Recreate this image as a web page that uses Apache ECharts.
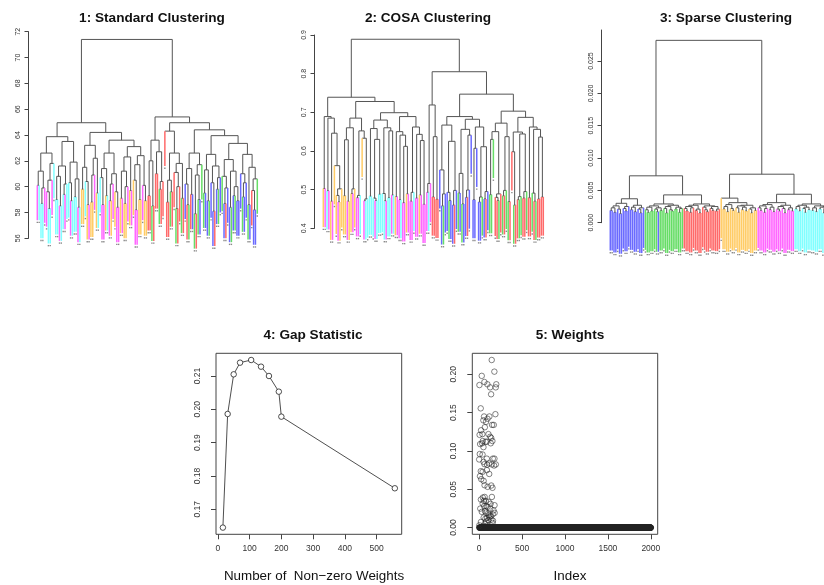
<!DOCTYPE html>
<html>
<head>
<meta charset="utf-8">
<script src="https://cdn.jsdelivr.net/npm/echarts@6/dist/echarts.min.js"></script>
<style>
  html, body { margin: 0; padding: 0; background: #fff; }
  #chart { width: 824px; height: 585px; }
</style>
</head>
<body>
<div id="chart"></div>
<script>
// leaf colour of each observation, in dendrogram order (m magenta, c cyan, o orange, r red, g green, b blue)
const leaves1 = ['mcccm', 'mccmc', 'ccmccmc', 'cmcccmc', 'oocom', 'oomoc', 'cmmocmomomm',
  'omoomom', 'ommoomoo', 'rrgrrrgrr', 'r', 'rrgrrgrrgr', 'brgrbgrgbg', 'gbbgbbrbgb',
  'gbrbbgbgbb', 'bgbbgbrbbg'].join('');
// merge height between neighbouring leaves (in-order)
const gaps1 = [
  60.1, 61.2, 58.7, 59.9, 62.6,
  59.6, 58.3, 60.5, 61.8, 63.87,
  59.0, 60.8, 58.5, 61.6, 59.4, 60.2, 63.5,
  60.3, 58.9, 61.9, 59.2, 60.6, 58.4, 64.95,
  59.8, 61.5, 60.4, 58.6, 63.2,
  58.8, 60.9, 62.2, 59.5, 64.2,
  60.7, 58.6, 61.4, 59.3, 62.6, 58.9, 60.2, 61.0, 59.6, 58.4, 63.6,
  59.1, 61.2, 58.7, 60.0, 62.3, 59.7, 63.1,
  60.5, 58.2, 61.7, 59.0, 62.4, 60.1, 58.9, 71.4,
  59.3, 62.0, 58.5, 63.6, 61.0, 62.7, 59.8, 60.4, 65.4,
  64.3,
  58.8, 60.5, 59.6, 62.6, 61.1, 58.3, 60.0, 61.8, 59.1, 64.95,
  60.2, 58.6, 61.4, 59.4, 62.6, 57.9, 60.9, 59.0, 61.7, 64.4,
  59.5, 61.3, 58.9, 62.5, 60.3, 58.1, 61.6, 59.8, 60.7, 63.95,
  60.8, 58.7, 59.9, 62.1, 58.4, 61.2, 59.3, 60.0, 58.9, 63.35,
  61.0, 59.2, 60.3, 62.5, 58.6, 61.5, 59.7, 58.2, 60.6
];
const ticks1 = [56, 58, 60, 62, 64, 66, 68, 70, 72];

const leaves2 = ['om', 'cm', 'omoomoo', 'oomoomo', 'mmcomcc', 'cccmccc', 'ccmccmc', 'ommcmmom',
  'mmcmmommm', 'mcm', 'rrrr', 'bbgbbgbbrb', 'gbgbbrbb', 'bbbbbgbrb', 'gggrrgrgrggr',
  'rgrrggrrg', 'rrgrgrrrr'].join('');
const gaps2 = [
  0.503, 0.689,
  0.497, 0.685,
  0.470, 0.646, 0.562, 0.485, 0.468, 0.502, 0.739,
  0.484, 0.629, 0.470, 0.660, 0.490, 0.502, 0.685,
  0.479, 0.485, 0.652, 0.633, 0.471, 0.476, 0.728,
  0.483, 0.658, 0.478, 0.472, 0.630, 0.488, 0.680,
  0.490, 0.471, 0.660, 0.479, 0.652, 0.486, 0.699,
  0.482, 0.650, 0.474, 0.641, 0.466, 0.612, 0.489, 0.689,
  0.470, 0.493, 0.662, 0.478, 0.643, 0.486, 0.627, 0.462, 0.889,
  0.493, 0.516, 0.719,
  0.481, 0.637, 0.475, 0.805,
  0.551, 0.458, 0.489, 0.667, 0.493, 0.472, 0.625, 0.460, 0.498, 0.689,
  0.491, 0.542, 0.463, 0.656, 0.480, 0.499, 0.641, 0.682,
  0.474, 0.607, 0.662, 0.468, 0.481, 0.611, 0.476, 0.495, 0.747,
  0.487, 0.630, 0.650, 0.480, 0.472, 0.489, 0.672, 0.484, 0.498, 0.637, 0.469, 0.703,
  0.598, 0.460, 0.649, 0.474, 0.482, 0.644, 0.478, 0.495, 0.687,
  0.479, 0.662, 0.491, 0.470, 0.656, 0.476, 0.636, 0.481
];
const ticks2 = [0.4, 0.5, 0.6, 0.7, 0.8, 0.9];

const leaves3 = ['bbbbbbbbbbbbbbbbbbb', 'gggggggbggggggggggggg', 'rrrrrrrrrrrrrrrrrrrr',
  'oooooooooooooooooooo', 'mmmmmmmmmmmmmmmmmmmm', 'cccccccccccccccccccc'].join('');
const gaps3 = [
  0.0019, 0.0023, 0.0016, 0.0026, 0.0021, 0.0014, 0.0030, 0.0022, 0.0018, 0.0025, 0.0037, 0.0020,
  0.0024, 0.0017, 0.0027, 0.0021, 0.0015, 0.0023, 0.00725,
  0.0020, 0.0016, 0.0024, 0.0018, 0.0026, 0.0021, 0.0017, 0.0023, 0.0019, 0.0029, 0.0022, 0.0015,
  0.0025, 0.0020, 0.0018, 0.0027, 0.0021, 0.0024, 0.0016, 0.0022, 0.0043,
  0.0022, 0.0018, 0.0025, 0.0016, 0.0023, 0.0027, 0.0019, 0.0021, 0.0015, 0.0029, 0.0024, 0.0020,
  0.0017, 0.0026, 0.0022, 0.0019, 0.0025, 0.0018, 0.0021, 0.0282,
  0.0038, 0.0021, 0.0025, 0.0017, 0.0028, 0.0022, 0.0019, 0.0031, 0.0023, 0.0016, 0.0026, 0.0020,
  0.0024, 0.0018, 0.0027, 0.0021, 0.0015, 0.0023, 0.0019, 0.0075,
  0.0023, 0.0019, 0.0026, 0.0016, 0.0022, 0.0028, 0.0020, 0.0024, 0.0017, 0.0031, 0.0021, 0.0018,
  0.0025, 0.0022, 0.0015, 0.0027, 0.0020, 0.0023, 0.0018, 0.0044,
  0.0021, 0.0025, 0.0018, 0.0027, 0.0022, 0.0016, 0.0024, 0.0020, 0.0029, 0.0019, 0.0023, 0.0017,
  0.0026, 0.0021, 0.0024, 0.0015, 0.0022, 0.0019, 0.0025
];
const ticks3 = [0, 0.005, 0.01, 0.015, 0.02, 0.025];

// gap statistic
const gapSizes = [16, 31, 50, 70, 105, 136, 161, 192, 200, 557];
const gapValues = [0.1645, 0.1986, 0.2105, 0.2140, 0.2148, 0.2128, 0.2100, 0.2053, 0.1978, 0.1763];
const gapXTicks = [0, 100, 200, 300, 400, 500];
const gapYTicks = [0.17, 0.18, 0.19, 0.20, 0.21];

// feature weights: [index, weight] for the non-zero ones, all others are 0
const featureCount = 2000;
const nonzeroWeights = [
  [1, 0.0889], [3, 0.003], [4, 0.186], [6, 0.121], [8, 0.096], [10, 0.0671], [12, 0.109], [14, 0.0248],
  [19, 0.1556], [20, 0.0736], [21, 0.0366], [22, 0.0074], [23, 0.127], [25, 0.0632], [31, 0.198],
  [32, 0.0205], [35, 0.110], [39, 0.122], [40, 0.0954], [41, 0.0728], [42, 0.0314], [43, 0.113],
  [44, 0.0392], [45, 0.0017], [50, 0.140], [51, 0.105], [52, 0.0858], [53, 0.061], [54, 0.0131],
  [57, 0.035], [58, 0.145], [59, 0.0279], [62, 0.190], [63, 0.0828], [64, 0.0553], [65, 0.040],
  [66, 0.0052], [67, 0.131], [70, 0.0215], [73, 0.0115], [76, 0.112], [78, 0.0349], [79, 0.0196],
  [81, 0.138], [84, 0.008], [86, 0.028], [89, 0.112], [90, 0.090], [91, 0.075], [92, 0.0126],
  [93, 0.082], [97, 0.187], [98, 0.142], [99, 0.0532], [100, 0.027], [101, 0.003], [105, 0.0185],
  [109, 0.122], [110, 0.0096], [112, 0.0336], [116, 0.0837], [117, 0.0161], [118, 0.070], [120, 0.145],
  [124, 0.014], [128, 0.183], [129, 0.1185], [130, 0.0248], [134, 0.031], [136, 0.110], [137, 0.015],
  [140, 0.174], [141, 0.117], [142, 0.0549], [143, 0.0105], [147, 0.2187], [148, 0.0824], [149, 0.040],
  [151, 0.134], [155, 0.113], [156, 0.0519], [157, 0.0061], [159, 0.0174], [160, 0.090], [162, 0.009],
  [168, 0.0225], [171, 0.134], [175, 0.081], [178, 0.2035], [179, 0.090], [180, 0.0292], [181, 0.0192],
  [190, 0.148], [194, 0.183], [195, 0.0824], [200, 0.187]
];
const weightXTicks = [0, 500, 1000, 1500, 2000];
const weightYTicks = [0, 0.05, 0.10, 0.15, 0.20];

const leafPalette = { m: '#ff66ff', c: '#80ffff', o: '#ffcc66', r: '#ff6a6a', g: '#66dd66', b: '#6a6aff' };
const branchColor = '#555';
const axisColor = '#444';
const labelColor = '#333';
const font = 'Liberation Sans, Arial, Helvetica, sans-serif';

// turn leaf order + neighbour merge heights into dendrogram segments
function dendroSegments(colors, gaps, hang) {
  const segs = [];
  function walk(lo, hi) {
    if (lo === hi) return { x: lo, leaf: true };
    let k = lo;
    for (let i = lo + 1; i < hi; i++) if (gaps[i] > gaps[k]) k = i;
    const h = gaps[k];
    const kids = [walk(lo, k), walk(k + 1, hi)];
    segs.push([kids[0].x, h, kids[1].x, h, '']);
    kids.forEach(function (c) {
      if (c.leaf) segs.push([c.x, h, c.x, h - hang, colors[c.x]]);
      else segs.push([c.x, h, c.x, c.h, '']);
    });
    return { x: (kids[0].x + kids[1].x) / 2, h: h, leaf: false };
  }
  walk(0, colors.length - 1);
  return segs;
}

function renderSeg(params, api) {
  const p1 = api.coord([api.value(0), api.value(1)]);
  const p2 = api.coord([api.value(2), api.value(3)]);
  const c = api.value(4);
  const line = {
    type: 'line',
    shape: { x1: p1[0], y1: p1[1], x2: p2[0], y2: p2[1] },
    style: { stroke: c ? leafPalette[c] : branchColor, lineWidth: c ? 1.5 : 1 }
  };
  if (!c) return line;
  return {
    type: 'group',
    children: [line, {
      type: 'rect',
      shape: { x: p2[0] - 0.7, y: p2[1] + 1.5, width: 1.4, height: 1.4 },
      style: { fill: '#8a8a8a' }
    }]
  };
}

// R-like 4% padding around a data range
function padRange(vals) {
  const lo = Math.min.apply(null, vals), hi = Math.max.apply(null, vals);
  const d = (hi - lo) * 0.04;
  return [lo - d, hi + d];
}

const weightPoints = [];
const nzMap = {};
nonzeroWeights.forEach(function (p) { nzMap[p[0]] = p[1]; });
for (let i = 1; i <= featureCount; i++) weightPoints.push([i, nzMap[i] || 0]);

const gapX = padRange(gapSizes), gapY = padRange(gapValues);
const wX = padRange([1, featureCount]), wY = padRange(weightPoints.map(function (p) { return p[1]; }));
const nLeaves = leaves1.length;
const leafX = padRange([0, nLeaves - 1]);

const chart = echarts.init(document.getElementById('chart'), null, { renderer: 'canvas' });

function dendroYAxis(idx, min, max, ticks, digits) {
  return {
    gridIndex: idx, type: 'value', min: min, max: max,
    splitLine: { show: false },
    axisLine: { show: true, onZero: false, lineStyle: { color: axisColor, width: 1 } },
    axisTick: { show: true, length: 4, customValues: ticks, lineStyle: { color: axisColor } },
    axisLabel: {
      customValues: ticks, rotate: 90, margin: 7, fontSize: 7, color: labelColor, fontFamily: font,
      formatter: function (v) { return digits === 0 ? String(v) : v.toFixed(digits); }
    }
  };
}

function boxYAxis(idx, range, ticks) {
  return {
    gridIndex: idx, type: 'value', min: range[0], max: range[1],
    splitLine: { show: false },
    axisLine: { show: false, onZero: false },
    axisTick: { show: true, length: 5, customValues: ticks, lineStyle: { color: axisColor } },
    axisLabel: {
      customValues: ticks, rotate: 90, margin: 14, fontSize: 8.5, color: labelColor, fontFamily: font,
      formatter: function (v) { return v.toFixed(2); }
    }
  };
}

function boxXAxis(idx, range, ticks) {
  return {
    gridIndex: idx, type: 'value', min: range[0], max: range[1],
    splitLine: { show: false },
    axisLine: { show: false, onZero: false },
    axisTick: { show: true, length: 5, customValues: ticks, lineStyle: { color: axisColor } },
    axisLabel: {
      customValues: ticks, margin: 10, fontSize: 8.5, color: labelColor, fontFamily: font,
      formatter: function (v) { return String(Math.round(v)); }
    }
  };
}

function hiddenXAxis(idx) {
  return { gridIndex: idx, type: 'value', show: false, min: leafX[0], max: leafX[1],
    axisLine: { onZero: false } };
}

const titleStyle = { fontSize: 13.6, fontWeight: 'bold', color: '#111', fontFamily: font };
const nameStyle = { fontSize: 13.4, fontWeight: 'normal', color: '#111', fontFamily: font };

chart.setOption({
  animation: false,
  backgroundColor: '#fff',
  title: [
    { text: '1: Standard Clustering', left: 147, top: 6, textAlign: 'center', textStyle: titleStyle },
    { text: '2: COSA Clustering', left: 423, top: 6, textAlign: 'center', textStyle: titleStyle },
    { text: '3: Sparse Clustering', left: 721, top: 6, textAlign: 'center', textStyle: titleStyle },
    { text: '4: Gap Statistic', left: 308, top: 323, textAlign: 'center', textStyle: titleStyle },
    { text: '5: Weights', left: 565, top: 323, textAlign: 'center', textStyle: titleStyle },
    { text: 'Number of  Non\u2212zero Weights', left: 309, top: 565, textAlign: 'center', textStyle: nameStyle },
    { text: 'Index', left: 565, top: 565, textAlign: 'center', textStyle: nameStyle }
  ],
  grid: [
    { left: 28.5, top: 31.7, width: 237.6, height: 206.6, outerBoundsMode: 'none' },
    { left: 314.5, top: 35, width: 237.6, height: 193.3, outerBoundsMode: 'none' },
    { left: 601.5, top: 30, width: 237.6, height: 192.7, outerBoundsMode: 'none' },
    { left: 216, top: 353.3, width: 185.7, height: 181, show: true, borderColor: axisColor, borderWidth: 1, outerBoundsMode: 'none' },
    { left: 472.3, top: 353.3, width: 185.4, height: 181, show: true, borderColor: axisColor, borderWidth: 1, outerBoundsMode: 'none' }
  ],
  xAxis: [
    hiddenXAxis(0),
    hiddenXAxis(1),
    hiddenXAxis(2),
    boxXAxis(3, gapX, gapXTicks),
    boxXAxis(4, wX, weightXTicks)
  ],
  yAxis: [
    dendroYAxis(0, 56, 72, ticks1, 0),
    dendroYAxis(1, 0.4, 0.9, ticks2, 1),
    dendroYAxis(2, 0, 0.0298, ticks3, 3),
    boxYAxis(3, gapY, gapYTicks),
    boxYAxis(4, wY, weightYTicks)
  ],
  series: [
    { type: 'custom', xAxisIndex: 0, yAxisIndex: 0, clip: false, renderItem: renderSeg,
      data: dendroSegments(leaves1, gaps1, 2.7) },
    { type: 'custom', xAxisIndex: 1, yAxisIndex: 1, clip: false, renderItem: renderSeg,
      data: dendroSegments(leaves2, gaps2, 0.1) },
    { type: 'custom', xAxisIndex: 2, yAxisIndex: 2, clip: false, renderItem: renderSeg,
      data: dendroSegments(leaves3, gaps3, 0.0062) },
    {
      type: 'line', xAxisIndex: 3, yAxisIndex: 3,
      data: gapSizes.map(function (x, i) { return [x, gapValues[i]]; }),
      symbol: 'circle', symbolSize: 5.5,
      lineStyle: { color: '#222', width: 0.8 },
      itemStyle: { color: '#fff', borderColor: '#222', borderWidth: 0.8 }
    },
    {
      type: 'scatter', xAxisIndex: 4, yAxisIndex: 4,
      data: weightPoints,
      symbol: 'circle', symbolSize: 5.5,
      itemStyle: { color: 'transparent', borderColor: '#222', borderWidth: 0.7 }
    }
  ]
});

window.addEventListener('resize', function () {
  chart.resize();
});
</script>
</body>
</html>
